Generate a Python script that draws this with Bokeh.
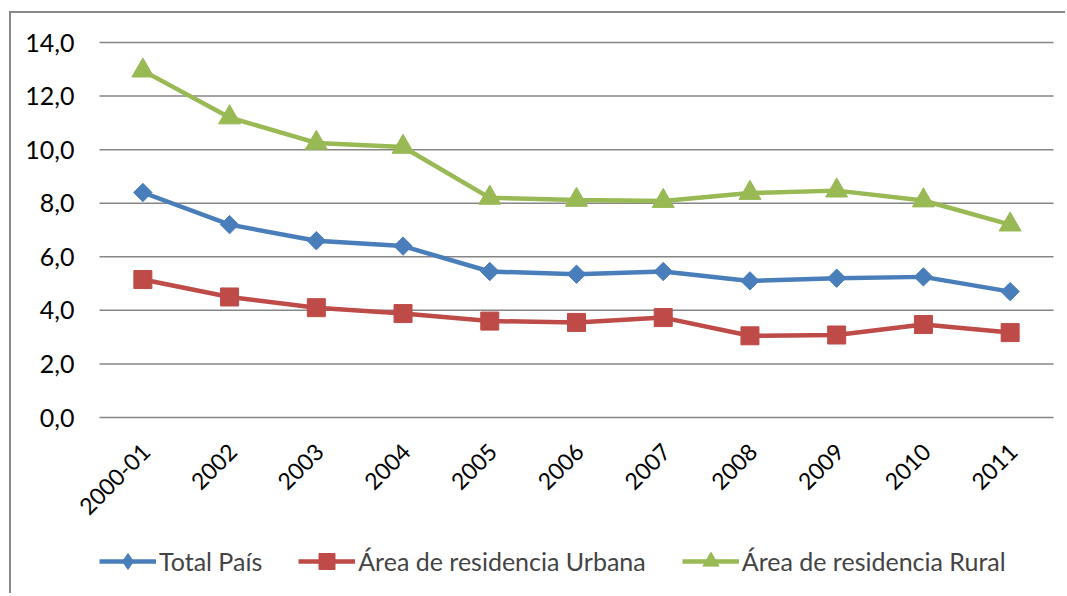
import math
from bokeh.plotting import figure
from bokeh.models import Legend, LegendItem, ColumnDataSource, Range1d
from bokeh.core.properties import value
from bokeh.embed import file_html
from bokeh.resources import INLINE

categories = ["2000-01", "2002", "2003", "2004", "2005", "2006", "2007", "2008", "2009", "2010", "2011"]
total_pais = [8.4, 7.2, 6.6, 6.4, 5.45, 5.35, 5.45, 5.1, 5.2, 5.25, 4.7]
urbana = [5.15, 4.5, 4.1, 3.88, 3.6, 3.55, 3.73, 3.05, 3.08, 3.47, 3.17]
rural = [12.95, 11.2, 10.25, 10.1, 8.2, 8.12, 8.08, 8.38, 8.47, 8.1, 7.2]
y_ticks = [0, 2, 4, 6, 8, 10, 12, 14]
y_tick_labels = ["0,0", "2,0", "4,0", "6,0", "8,0", "10,0", "12,0", "14,0"]
series_names = ["Total País", "Área de residencia Urbana", "Área de residencia Rural"]

BLUE = "#4A7EBB"
RED = "#BE4B48"
GREEN = "#98B954"
GRID = "#868686"
FONT = "Lato"

# ---- layout (pixels) ----
canvas_left, canvas_top = 11, 13            # after CSS margin + border
frame_w, frame_h = 1054, 580
plot_left, plot_right = 99, 1053            # value area (band edges)
plot_top, plot_bottom = 42, 417             # 14 and 0 lines
n = len(categories)
px_x = (plot_right - plot_left) / n
px_y = (plot_bottom - plot_top) / y_ticks[-1]
x_start = (canvas_left - plot_left) / px_x
x_end = x_start + frame_w / px_x
y_end = (plot_bottom - canvas_top) / px_y
y_start = y_end - frame_h / px_y

p = figure(x_range=Range1d(x_start, x_end), y_range=Range1d(y_start, y_end),
           frame_width=frame_w, frame_height=frame_h,
           min_border_left=0, min_border_right=0, min_border_top=0, min_border_bottom=0,
           output_backend="svg", toolbar_location=None,
           background_fill_color="white", border_fill_color="white")
p.styles = {"border-top": "2px solid #898989", "border-left": "2px solid #898989",
            "margin-top": "11px", "margin-left": "9px"}
p.outline_line_color = None
p.xaxis.visible = False
p.yaxis.visible = False
p.grid.visible = False

# category positions: centre of each band
x_pos = [i + 0.5 for i in range(n)]
src = ColumnDataSource(dict(x=x_pos, cat=categories, t=total_pais, u=urbana, r=rural))

# horizontal gridlines across the value area
p.segment(x0=0, x1=n, y0=y_ticks, y1=y_ticks, line_color=GRID, line_width=1.5)

# y tick labels
p.text(x=0, y=y_ticks, text=y_tick_labels, x_offset=-25,
       text_align="right", text_baseline="middle",
       text_font=value(FONT), text_font_size="25px", text_color="black")

# category labels under the 0 line, rotated 45 degrees
p.text(x="x", y=y_ticks[0], text="cat", source=src, angle=math.pi / 4,
       text_align="right", text_baseline="middle", x_offset=3, y_offset=30,
       text_font=value(FONT), text_font_size="23px", text_color="black")

l1 = p.line("x", "t", source=src, line_color=BLUE, line_width=4.5)
# narrow diamond used by the legend (hidden beneath the plot markers)
d1 = p.scatter("x", "t", source=src, marker="diamond", size=10, fill_color=BLUE, line_color=BLUE)
m1 = p.scatter("x", "t", source=src, marker="square", angle=math.pi / 4, size=13,
               fill_color=BLUE, line_color=BLUE)
l2 = p.line("x", "u", source=src, line_color=RED, line_width=4.5)
m2 = p.scatter("x", "u", source=src, marker="square", size=18, fill_color=RED, line_color=RED)
l3 = p.line("x", "r", source=src, line_color=GREEN, line_width=4.5)
m3 = p.scatter("x", "r", source=src, marker="triangle", size=22, fill_color=GREEN, line_color=GREEN)

legend = Legend(items=[
    LegendItem(label=series_names[0], renderers=[l1, d1]),
    LegendItem(label=series_names[1], renderers=[l2, m2]),
    LegendItem(label=series_names[2], renderers=[l3, m3]),
], orientation="horizontal", location=(plot_left - canvas_left, 12),
    border_line_color=None, background_fill_alpha=0,
    label_text_font=FONT, label_text_font_size="25px",
    glyph_width=57, glyph_height=40, label_standoff=3, spacing=36,
    padding=0, margin=0)
p.add_layout(legend, "center")

open("out.html", "w").write(file_html(p, INLINE))
